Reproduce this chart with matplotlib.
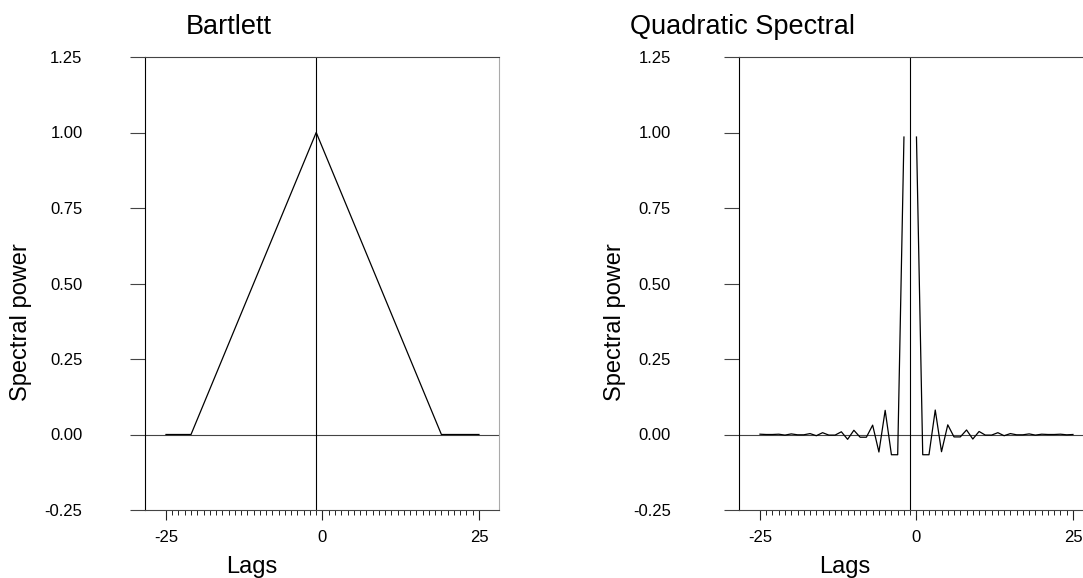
import numpy as np
import matplotlib
matplotlib.use('Agg')
import matplotlib.pyplot as plt

plt.rcParams['font.family'] = ['Liberation Sans', 'DejaVu Sans']

# lags as plotted (peak sits one step left of the "0" tick in the original)
lags = list(range(-24, 27))

bartlett = [0, 0, 0, 0, 0,
            0.05, 0.10, 0.15, 0.20, 0.25, 0.30, 0.35, 0.40, 0.45, 0.50,
            0.55, 0.60, 0.65, 0.70, 0.75, 0.80, 0.85, 0.90, 0.95,
            1.00,
            0.95, 0.90, 0.85, 0.80, 0.75, 0.70, 0.65, 0.60, 0.55, 0.50,
            0.45, 0.40, 0.35, 0.30, 0.25, 0.20, 0.15, 0.10, 0.05,
            0, 0, 0, 0, 0, 0, 0]

qs = [0.001, 0.000, 0.000, 0.001, -0.002, 0.002, -0.001, -0.001, 0.003, -0.004,
      0.006, -0.002, -0.002, 0.009, -0.016, 0.014, -0.009, -0.009, 0.031, -0.058,
      0.080, -0.067, -0.067, 0.985,
      np.nan,
      0.985, -0.067, -0.067, 0.081, -0.057, 0.032, -0.008, -0.008, 0.015, -0.015,
      0.010, -0.002, -0.002, 0.006, -0.004, 0.003, -0.001, -0.001, 0.002, -0.002,
      0.001, 0.000, 0.000, 0.001, -0.001, 0.000]

xtick_pos = [-24, 1, 26]
xtick_lab = ['-25', '0', '25']
ytick_val = [-0.25, 0, 0.25, 0.5, 0.75, 1.0, 1.25]
ytick_lab = ['-0.25', '0.00', '0.25', '0.50', '0.75', '1.00', '1.25']

W, H = 1083, 578
fig = plt.figure(figsize=(W / 100, H / 100), dpi=100)

panels = [
    # (left px, data, title, title centre px, ylabel x px, xlabel centre px, ytick pad)
    (145, bartlett, 'Bartlett', 229, 21, 251.5, 34),
    (739, qs, 'Quadratic Spectral', 743, 615, 845, 38),
]

for left, vals, title, tx, ylx, xlx, ypad in panels:
    ax = fig.add_axes([left / W, 68 / H, 354 / W, 453 / H])
    ax.axhline(0, color='#444444', lw=0.8, zorder=1)
    ax.axvline(0, color='black', lw=0.8, zorder=1)
    ax.plot(lags, vals, color='black', lw=0.9, zorder=2)

    ax.set_xlim(-27.35, 29.2)
    ax.set_ylim(-0.25, 1.25)

    ax.set_xticks(xtick_pos)
    ax.set_xticklabels(xtick_lab)
    ax.set_xticks(lags, minor=True)
    ax.set_yticks(ytick_val)
    ax.set_yticklabels(ytick_lab)

    ax.tick_params(axis='x', which='major', direction='out', length=7.5, width=0.8,
                   pad=7, labelsize=12, color='#222222')
    ax.tick_params(axis='x', which='minor', direction='out', length=3.5, width=0.7,
                   color='#222222')
    ax.tick_params(axis='y', direction='out', length=11, width=0.8, pad=ypad,
                   labelsize=12, color='#444444')

    ax.spines['left'].set_color('black')
    ax.spines['top'].set_color('#444444')
    ax.spines['bottom'].set_color('#444444')
    ax.spines['right'].set_color('#aaaaaa')
    for s in ax.spines.values():
        s.set_linewidth(0.8)

    fig.text(tx / W, 1 - 34.3 / H, title, ha='center', va='baseline', fontsize=19.5)
    fig.text(ylx / W, 1 - 322 / H, 'Spectral power', rotation=90,
             ha='center', va='center', fontsize=17)
    fig.text(xlx / W, 0.008, 'Lags', ha='center', va='baseline', fontsize=17)

fig.savefig('out.png', dpi=100)
